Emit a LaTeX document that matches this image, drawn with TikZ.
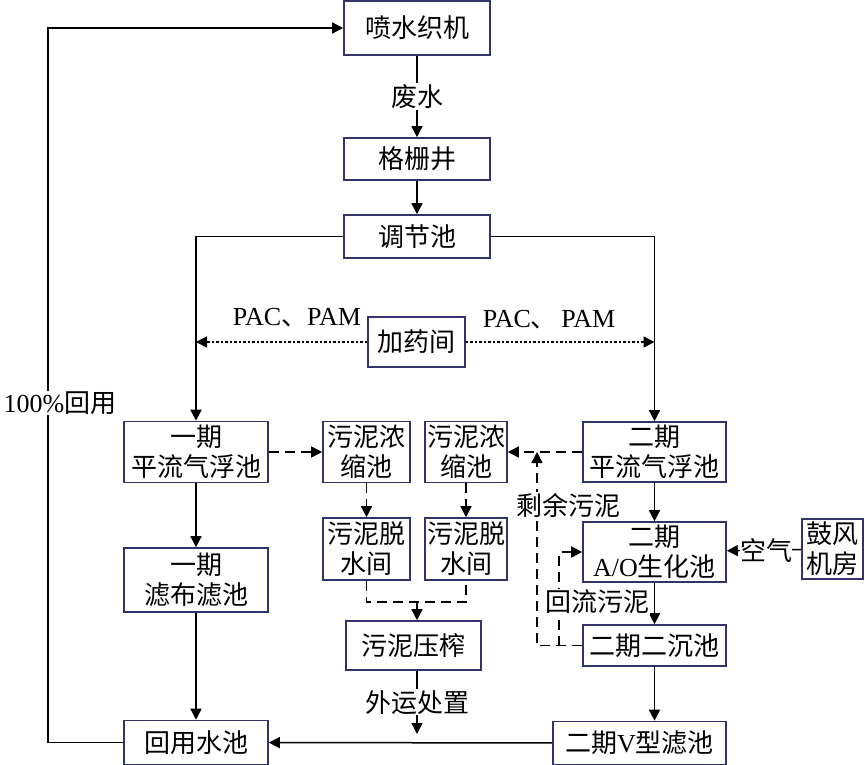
\documentclass[tikz,border=0pt]{standalone}
\usepackage{fontspec}
\setmainfont{Liberation Serif}
\newfontfamily\cjk{Noto Sans CJK SC}
\usetikzlibrary{arrows.meta,calc}
\definecolor{boxc}{HTML}{33336B}
\begin{document}
\begin{tikzpicture}[x=1pt,y=-1pt,
  box/.style={draw=boxc,line width=1.6pt,inner sep=0pt,align=center,fill=white,
    font=\fontsize{26}{30}\selectfont},
  ln/.style={line width=1.5pt},
  arr/.style={ln,-{Triangle[length=11pt,width=11pt]}},
  dsh/.style={dash pattern=on 10pt off 6pt},
  dot/.style={dash pattern=on 2.5pt off 2pt},
  lab/.style={fill=white,inner sep=1pt,font=\fontsize{26}{30}\selectfont}]
\useasboundingbox (0,0) rectangle (865,765);
% nodes
\node[box,minimum width=146pt,minimum height=54pt] (pen) at (417,28) {\cjk 喷水织机};
\node[box,minimum width=146pt,minimum height=42pt] (ges) at (417,159) {\cjk 格栅井};
\node[box,minimum width=146pt,minimum height=43pt] (tiao) at (417,236.5) {\cjk 调节池};
\node[box,minimum width=97pt,minimum height=50pt] (jia) at (416.5,342) {\cjk 加药间};
\node[box,minimum width=144pt,minimum height=61pt] (yq1) at (196,452) {\cjk 一期\\\cjk 平流气浮池};
\node[box,minimum width=87pt,minimum height=61pt] (nong1) at (366.5,452) {\cjk 污泥浓\\\cjk 缩池};
\node[box,minimum width=82pt,minimum height=61pt] (nong2) at (466,452) {\cjk 污泥浓\\\cjk 缩池};
\node[box,minimum width=143pt,minimum height=60pt] (eq1) at (654.5,452) {\cjk 二期\\\cjk 平流气浮池};
\node[box,minimum width=144pt,minimum height=64pt] (lb) at (196,580) {\cjk 一期\\\cjk 滤布滤池};
\node[box,minimum width=87pt,minimum height=62pt] (tuo1) at (366.5,549) {\cjk 污泥脱\\\cjk 水间};
\node[box,minimum width=82pt,minimum height=62pt] (tuo2) at (466,549) {\cjk 污泥脱\\\cjk 水间};
\node[box,minimum width=135pt,minimum height=49pt] (ya) at (413.5,645.5) {\cjk 污泥压榨};
\node[box,minimum width=143pt,minimum height=60pt] (ao) at (654.5,552) {\cjk 二期\\A/O{\cjk 生化池}};
\node[box,minimum width=61pt,minimum height=60pt] (gu) at (832.5,549) {\cjk 鼓风\\\cjk 机房};
\node[box,minimum width=143pt,minimum height=41pt] (chen) at (654.5,645.5) {\cjk 二期二沉池};
\node[box,minimum width=144pt,minimum height=44pt] (hui) at (196,742.5) {\cjk 回用水池};
\node[box,minimum width=173pt,minimum height=43pt] (vx) at (639.5,743) {{\cjk 二期}V{\cjk 型滤池}};
% helper coordinates
\coordinate (L) at (48,0);
\coordinate (c1) at (537,0);
\coordinate (c2) at (559,0);
\coordinate (m) at (417,602);
\coordinate (wy) at (417,734);
% solid connectors
\draw[arr] (pen) -- node[lab]{\cjk 废水} (ges);
\draw[arr] (ges) -- (tiao);
\draw[arr] (tiao.west) -| (yq1.north);
\draw[arr] (tiao.east) -| (eq1.north);
\draw[arr] (yq1) -- (lb);
\draw[arr] (lb) -- (hui);
\draw[arr] (eq1) -- (ao);
\draw[arr] (ao) -- (chen);
\draw[arr] (chen.south) -- (chen.south |- vx.north);
\draw[arr] (vx) -- (hui);
\draw[arr] (gu) -- node[lab,inner sep=0pt,xshift=2pt]{\cjk 空气} (ao);
\draw[arr] (hui.west) -| (L |- pen.west) -- (pen.west);
\draw[arr] (wy |- ya.south) -- node[lab,pos=0.5]{\cjk 外运处置} (wy);
% dotted dosing lines
\draw[arr,dot] (jia.west) -- (yq1.north |- jia.west);
\draw[arr,dot] (jia.east) -- (eq1.north |- jia.east);
\node[font=\fontsize{26}{30}\selectfont] (pacl) at (297,318) {PAC{\cjk 、}PAM};
\node[font=\fontsize{26}{30}\selectfont] (pacr) at (549,320) {PAC{\cjk 、}\,PAM};
% dashed sludge lines
\draw[arr,dsh] (yq1) -- (nong1);
\draw[arr,dsh] (eq1) -- (nong2);
\draw[arr,dsh] (nong1) -- (tuo1);
\draw[arr,dsh] (nong2) -- (tuo2);
\draw[ln,dsh] (tuo1.south) |- (m) -| (tuo2.south);
\draw[arr,dsh] (m) -- (m |- ya.north);
\draw[arr,dsh] (chen.west) -| (c1 |- eq1.west);
\draw[arr,dsh] (c2 |- chen.west) |- (ao.west);
% labels
\node[lab] (sy) at (568,505) {\cjk 剩余污泥};
\node[lab] (hl) at (597,602) {\cjk 回流污泥};
\node[lab] (hy) at (60,403) {100\%{\cjk 回用}};
\end{tikzpicture}
\end{document}
